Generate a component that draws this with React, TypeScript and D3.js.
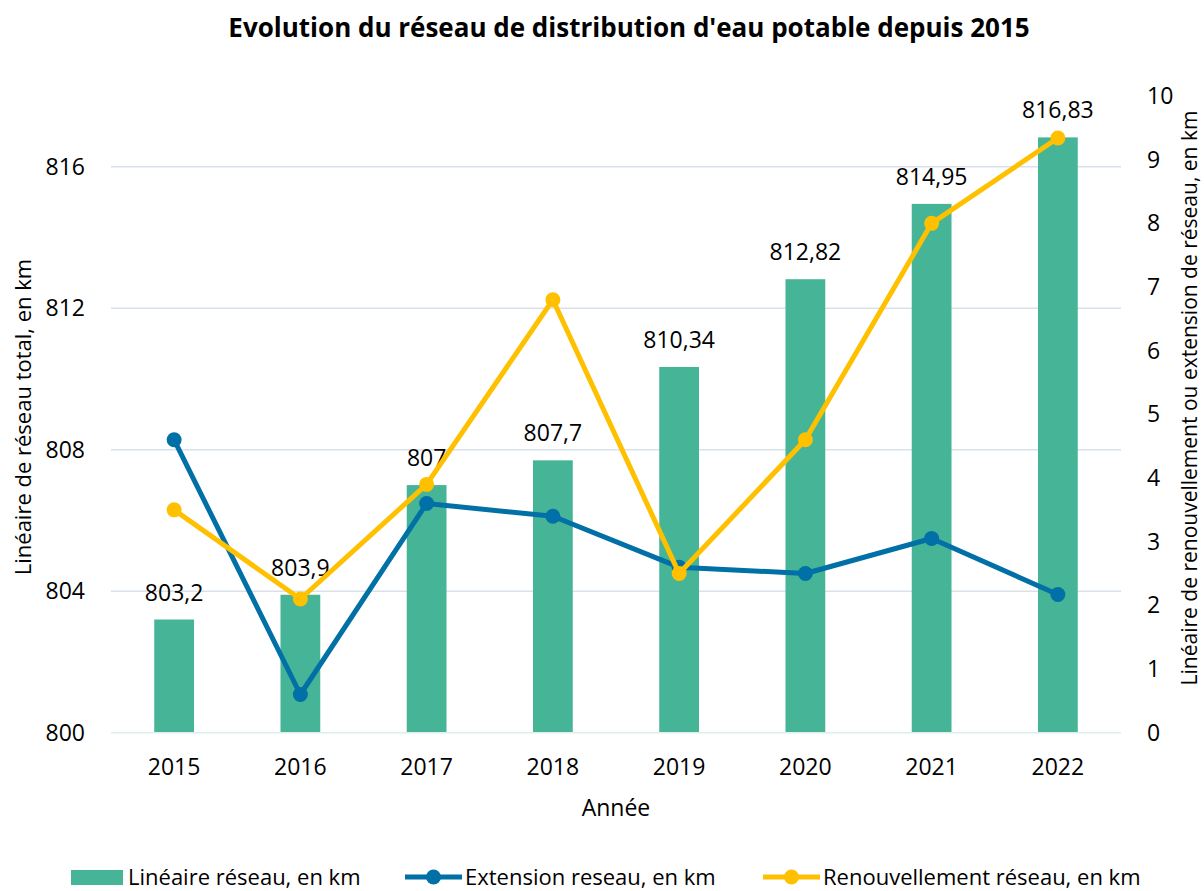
import React, { useEffect, useRef } from "react";
import * as d3 from "d3";

const years = ["2015", "2016", "2017", "2018", "2019", "2020", "2021", "2022"];
const lineaire = [803.2, 803.9, 807, 807.7, 810.34, 812.82, 814.95, 816.83];
const extension = [4.6, 0.6, 3.6, 3.4, 2.6, 2.5, 3.05, 2.17];
const renouvellement = [3.5, 2.1, 3.9, 6.8, 2.5, 4.6, 8.0, 9.34];
const leftTicks = [800, 804, 808, 812, 816];
const rightTicks = [0, 1, 2, 3, 4, 5, 6, 7, 8, 9, 10];

const GREEN = "#46B497";
const BLUE = "#0070A6";
const YELLOW = "#FFC000";
const FONT = "'Open Sans', sans-serif";

const fmt = (v: number) => String(v).replace(".", ",");

const drawChart = (node: SVGSVGElement) => {
    const width = 1204;
    const height = 891;
    const plot = { left: 111, right: 1121, top: 96, bottom: 732.7 };

    const svg = d3.select(node).attr("width", width).attr("height", height);
    svg.selectAll("*").remove();

    const x = d3.scaleBand().domain(years).range([plot.left, plot.right]).padding(0);
    const yL = d3.scaleLinear().domain([800, 818]).range([plot.bottom, plot.top]);
    const yR = d3.scaleLinear().domain([0, 10]).range([plot.bottom, plot.top]);
    const cx = (d: string) => (x(d) ?? 0) + x.bandwidth() / 2;
    const barW = x.bandwidth() * 0.315;

    // title
    svg.append("text")
        .attr("x", 629)
        .attr("y", 28)
        .attr("dy", "0.35em")
        .attr("text-anchor", "middle")
        .style("font-family", FONT)
        .style("font-size", "26px")
        .style("font-weight", "bold")
        .text("Evolution du réseau de distribution d'eau potable depuis 2015");

    // gridlines
    svg.append("g")
        .selectAll("line")
        .data(leftTicks.filter((t) => t !== 800))
        .join("line")
        .attr("x1", plot.left)
        .attr("x2", plot.right)
        .attr("y1", (d) => yL(d))
        .attr("y2", (d) => yL(d))
        .attr("stroke", "#D9E1EA")
        .attr("stroke-width", 1.5);

    // bars
    svg.append("g")
        .selectAll("rect")
        .data(lineaire)
        .join("rect")
        .attr("x", (d, i) => cx(years[i]) - barW / 2)
        .attr("y", (d) => yL(d))
        .attr("width", barW)
        .attr("height", (d) => yL(800) - yL(d))
        .attr("fill", GREEN);

    // baseline
    svg.append("line")
        .attr("x1", plot.left)
        .attr("x2", plot.right)
        .attr("y1", plot.bottom)
        .attr("y2", plot.bottom)
        .attr("stroke", "#DCEFEA")
        .attr("stroke-width", 1.5);

    // bar labels
    svg.append("g")
        .selectAll("text")
        .data(lineaire)
        .join("text")
        .attr("x", (d, i) => cx(years[i]))
        .attr("y", (d) => yL(d) - 27)
        .attr("dy", "0.35em")
        .attr("text-anchor", "middle")
        .style("font-family", FONT)
        .style("font-size", "23px")
        .text((d) => fmt(d));

    // lines
    const series = [
        { values: extension, color: BLUE },
        { values: renouvellement, color: YELLOW },
    ];
    const line = d3
        .line<number>()
        .x((d, i) => cx(years[i]))
        .y((d) => yR(d));
    series.forEach((s) => {
        svg.append("path")
            .datum(s.values)
            .attr("d", line)
            .attr("fill", "none")
            .attr("stroke", s.color)
            .attr("stroke-width", 5)
            .attr("stroke-linejoin", "round");
        svg.append("g")
            .selectAll("circle")
            .data(s.values)
            .join("circle")
            .attr("cx", (d, i) => cx(years[i]))
            .attr("cy", (d) => yR(d))
            .attr("r", 7.5)
            .attr("fill", s.color);
    });

    // left axis
    svg.append("g")
        .selectAll("text")
        .data(leftTicks)
        .join("text")
        .attr("x", 85)
        .attr("y", (d) => yL(d))
        .attr("dy", "0.35em")
        .attr("text-anchor", "end")
        .style("font-family", FONT)
        .style("font-size", "23px")
        .text((d) => d);

    // right axis
    svg.append("g")
        .selectAll("text")
        .data(rightTicks)
        .join("text")
        .attr("x", 1147)
        .attr("y", (d) => yR(d))
        .attr("dy", "0.35em")
        .attr("text-anchor", "start")
        .style("font-family", FONT)
        .style("font-size", "23px")
        .text((d) => d);

    // x axis
    svg.append("g")
        .selectAll("text")
        .data(years)
        .join("text")
        .attr("x", (d) => cx(d))
        .attr("y", 767)
        .attr("dy", "0.35em")
        .attr("text-anchor", "middle")
        .style("font-family", FONT)
        .style("font-size", "23px")
        .text((d) => d);

    svg.append("text")
        .attr("x", (plot.left + plot.right) / 2)
        .attr("y", 808)
        .attr("dy", "0.35em")
        .attr("text-anchor", "middle")
        .style("font-family", FONT)
        .style("font-size", "23px")
        .text("Année");

    svg.append("text")
        .attr("transform", `translate(23,417) rotate(-90)`)
        .attr("dy", "0.35em")
        .attr("text-anchor", "middle")
        .style("font-family", FONT)
        .style("font-size", "22px")
        .text("Linéaire de réseau total, en km");

    svg.append("text")
        .attr("transform", `translate(1190,398) rotate(-90)`)
        .attr("dy", "0.35em")
        .attr("text-anchor", "middle")
        .style("font-family", FONT)
        .style("font-size", "21px")
        .text("Linéaire de renouvellement ou extension de réseau, en km");

    // legend
    const ly = 877;
    const legend = svg.append("g");
    legend.append("rect").attr("x", 71).attr("y", ly - 7).attr("width", 52).attr("height", 15).attr("fill", GREEN);
    legend.append("text")
        .attr("x", 128)
        .attr("y", ly)
        .attr("dy", "0.35em")
        .style("font-family", FONT)
        .style("font-size", "22px")
        .text("Linéaire réseau, en km");

    const legendLines = [
        { x0: 405, label: "Extension reseau, en km", color: BLUE },
        { x0: 763, label: "Renouvellement réseau, en km", color: YELLOW },
    ];
    legendLines.forEach((l) => {
        legend.append("line")
            .attr("x1", l.x0)
            .attr("x2", l.x0 + 57)
            .attr("y1", ly)
            .attr("y2", ly)
            .attr("stroke", l.color)
            .attr("stroke-width", 5);
        legend.append("circle").attr("cx", l.x0 + 28.5).attr("cy", ly).attr("r", 7.5).attr("fill", l.color);
        legend.append("text")
            .attr("x", l.x0 + 60)
            .attr("y", ly)
            .attr("dy", "0.35em")
            .style("font-family", FONT)
            .style("font-size", "22px")
            .text(l.label);
    });
};

export default function App() {
    const svgRef = useRef<SVGSVGElement>(null);

    useEffect(() => {
        if (svgRef.current) drawChart(svgRef.current);
    }, []);

    return (
        <svg
            ref={svgRef}
            style={{ position: "absolute", left: 0, top: 0, background: "#fff" }}
        />
    );
}
